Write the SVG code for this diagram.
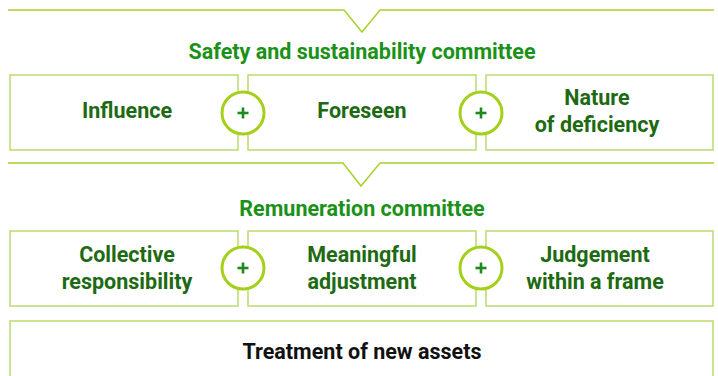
<svg xmlns="http://www.w3.org/2000/svg" width="718" height="376" viewBox="0 0 718 376">
  <style>
    .box { fill: #ffffff; stroke: #b9dc6e; stroke-width: 1.5; }
    .div { fill: none; stroke: #a8d12a; stroke-width: 1.5; }
    .plus-ring { fill: #ffffff; stroke: #a4cf1a; stroke-width: 3; }
    .plus { stroke: #1c8a1c; stroke-width: 2.6; }
    .title { font-family: Roboto, "Liberation Sans", sans-serif; font-weight: 700; font-size: 21.5px; fill: #1b9118; text-anchor: middle; }
    .label { font-family: Roboto, "Liberation Sans", sans-serif; font-weight: 700; font-size: 21.5px; fill: #1d6a12; text-anchor: middle; }
    .dark { font-family: Roboto, "Liberation Sans", sans-serif; font-weight: 700; font-size: 21.5px; fill: #111111; text-anchor: middle; }
  </style>
  <defs>
    <g id="plus-sign">
      <circle class="plus-ring" r="21"/>
      <line class="plus" x1="-5.5" y1="0" x2="5.5" y2="0"/>
      <line class="plus" x1="0" y1="-5.5" x2="0" y2="5.5"/>
    </g>
  </defs>

  <!-- section dividers with downward notches -->
  <g id="connectors">
    <path class="div" d="M8 10 H344 L362 32 L380 10 H714"/>
    <path class="div" d="M8 163 H343 L361 186 L380 163 H714"/>
  </g>

  <!-- safety and sustainability committee -->
  <g id="safety-committee">
    <text class="title" x="362" y="59">Safety and sustainability committee</text>
  </g>
  <g id="influence">
    <rect class="box" x="10" y="75" width="228" height="75"/>
    <text class="label" x="127" y="118">Influence</text>
  </g>
  <g id="foreseen">
    <rect class="box" x="248" y="75" width="228" height="75"/>
    <text class="label" x="362" y="118">Foreseen</text>
  </g>
  <g id="nature-of-deficiency">
    <rect class="box" x="486" y="75" width="227" height="75"/>
    <text class="label" x="597" y="105">Nature</text>
    <text class="label" x="597" y="132">of deficiency</text>
  </g>
  <g id="plus-1"><use href="#plus-sign" x="243" y="113"/></g>
  <g id="plus-2"><use href="#plus-sign" x="481" y="113"/></g>

  <!-- remuneration committee -->
  <g id="remuneration-committee">
    <text class="title" x="362" y="216">Remuneration committee</text>
  </g>
  <g id="collective-responsibility">
    <rect class="box" x="10" y="231" width="228" height="75"/>
    <text class="label" x="127" y="262">Collective</text>
    <text class="label" x="127" y="289">responsibility</text>
  </g>
  <g id="meaningful-adjustment">
    <rect class="box" x="248" y="231" width="228" height="75"/>
    <text class="label" x="362" y="262">Meaningful</text>
    <text class="label" x="362" y="289">adjustment</text>
  </g>
  <g id="judgement-within-a-frame">
    <rect class="box" x="486" y="231" width="227" height="75"/>
    <text class="label" x="595" y="262">Judgement</text>
    <text class="label" x="595" y="289">within a frame</text>
  </g>
  <g id="plus-3"><use href="#plus-sign" x="243" y="268"/></g>
  <g id="plus-4"><use href="#plus-sign" x="481" y="268"/></g>

  <!-- treatment of new assets -->
  <g id="new-assets">
    <rect class="box" x="10" y="321" width="703" height="70"/>
    <text class="dark" x="362" y="359">Treatment of new assets</text>
  </g>
</svg>
